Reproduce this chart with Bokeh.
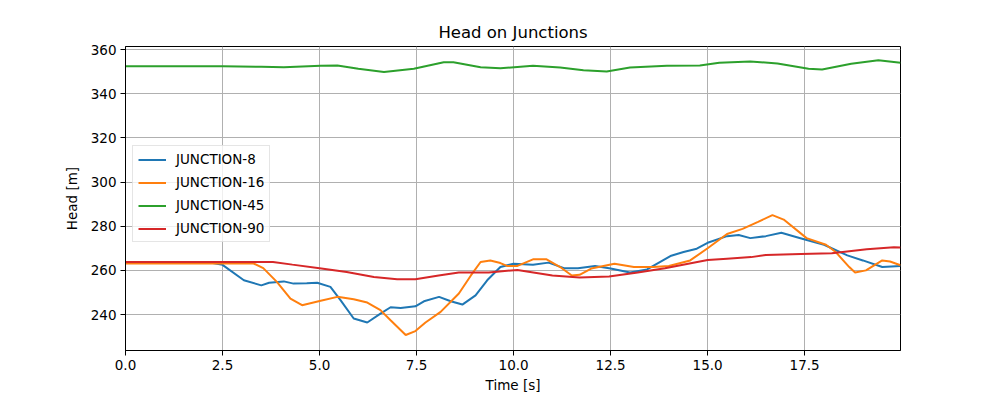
from bokeh.plotting import figure
from bokeh.models import FixedTicker, PrintfTickFormatter, Legend, LegendItem, Range1d
from bokeh.embed import file_html
from bokeh.resources import INLINE

# ---- data ----
t_j8 = [0, 2.25, 2.5, 3.05, 3.5, 3.7, 4.08, 4.33, 4.67, 4.94, 5.28, 5.54, 5.88, 6.23, 6.57, 6.83,
        7.09, 7.47, 7.69, 8.08, 8.38, 8.68, 9.02, 9.32, 9.66, 10.0, 10.5, 10.9, 11.3, 11.66, 12.1,
        12.5, 13.0, 13.44, 14.04, 14.38, 14.72, 15.0, 15.5, 15.8, 16.1, 16.5, 16.9, 17.3, 17.6,
        18.0, 18.6, 19.0, 19.5, 19.97]
h_j8 = [263.3, 263.3, 262.5, 255.5, 253.2, 254.4, 255.0, 254.0, 254.2, 254.4, 252.5, 246.5, 238.2,
        236.4, 240.4, 243.3, 242.9, 243.7, 246.0, 248.0, 246.0, 244.5, 248.7, 255.5, 261.5, 263.0,
        262.5, 263.5, 261.0, 261.0, 262.0, 260.8, 259.0, 260.4, 266.5, 268.3, 269.8, 272.5, 275.5,
        276.0, 274.6, 275.5, 277.0, 275.0, 273.5, 271.6, 266.8, 264.5, 261.5, 262.0]

t_j16 = [0, 3.3, 3.55, 3.9, 4.25, 4.55, 5.03, 5.46, 5.88, 6.23, 6.57, 6.83, 7.22, 7.47, 7.73, 8.12,
         8.59, 8.9, 9.15, 9.4, 9.66, 9.83, 10.1, 10.5, 10.85, 11.2, 11.5, 11.7, 12.0, 12.6, 13.1,
         13.6, 14.0, 14.55, 15.0, 15.5, 15.9, 16.3, 16.67, 16.96, 17.55, 18.05, 18.3, 18.65, 18.8,
         19.08, 19.5, 19.7, 19.97]
h_j16 = [263.1, 263.1, 261.0, 254.8, 247.2, 244.2, 246.2, 248.0, 246.9, 245.4, 242.0, 237.4, 230.7,
         232.5, 236.4, 241.2, 249.5, 257.7, 263.8, 264.5, 263.3, 262.0, 262.0, 265.0, 265.0, 261.5,
         257.7, 258.0, 260.8, 263.0, 261.5, 261.5, 262.0, 264.5, 270.0, 276.5, 278.8, 282.0, 285.0,
         283.0, 274.6, 271.6, 268.3, 261.5, 259.0, 260.0, 264.5, 264.0, 262.3]

t_j45 = [0, 2.5, 3.5, 4.08, 5.03, 5.46, 6.0, 6.66, 7.43, 8.2, 8.45, 9.15, 9.66, 10.5, 11.2, 11.8,
         12.4, 13.0, 13.95, 14.8, 15.3, 16.1, 16.8, 17.6, 17.95, 18.7, 19.4, 19.97]
h_j45 = [352.5, 352.5, 352.2, 352.0, 352.7, 352.8, 351.3, 349.8, 351.3, 354.3, 354.3, 352.0, 351.5,
         352.7, 351.9, 350.6, 350.1, 351.9, 352.7, 352.8, 354.0, 354.6, 353.7, 351.3, 351.0, 353.6,
         355.2, 354.0]

t_j90 = [0, 3.8, 4.3, 5.0, 5.7, 6.4, 7.0, 7.47, 8.07, 8.59, 9.36, 10.1, 11.0, 11.7, 12.46, 13.2,
         13.9, 15.0, 15.5, 16.12, 16.5, 17.4, 18.2, 19.1, 19.8, 19.97]
h_j90 = [263.8, 263.8, 262.6, 261.0, 259.3, 257.0, 256.0, 256.0, 257.7, 259.0, 259.0, 260.2, 257.7,
         256.8, 257.2, 259.0, 261.0, 264.7, 265.3, 266.0, 267.0, 267.4, 267.7, 269.6, 270.5, 270.4]

series_names = ["JUNCTION-8", "JUNCTION-16", "JUNCTION-45", "JUNCTION-90"]
x_ticks = [0, 2.5, 5.0, 7.5, 10.0, 12.5, 15.0, 17.5]
y_ticks = [240, 260, 280, 300, 320, 340, 360]

colors = ["#1f77b4", "#ff7f0e", "#2ca02c", "#d62728"]
FONT = "DejaVu Sans"

p = figure(width=1000, height=395, output_backend="svg", toolbar_location=None,
           x_range=Range1d(0, 19.97), y_range=Range1d(223.7, 361.4),
           min_border_left=125, min_border_right=100, min_border_top=46, min_border_bottom=43,
           title="Head on Junctions")

p.title.text_font = FONT
p.title.text_font_size = "16.5px"
p.title.text_font_style = "normal"
p.title.align = "center"
p.title.text_color = "#000000"

p.outline_line_color = "black"
p.outline_line_width = 1
p.outline_line_alpha = 1

for ax in (p.xaxis[0], p.yaxis[0]):
    ax.axis_line_color = "black"
    ax.major_tick_line_color = "black"
    ax.major_tick_out = 5
    ax.major_tick_in = 0
    ax.minor_tick_line_color = None
    ax.major_label_text_font = FONT
    ax.major_label_text_font_size = "13.5px"
    ax.major_label_text_color = "black"
    ax.axis_label_text_font = FONT
    ax.axis_label_text_font_size = "13.5px"
    ax.axis_label_text_font_style = "normal"
    ax.axis_label_text_color = "black"

p.xaxis.ticker = FixedTicker(ticks=x_ticks)
p.xaxis.formatter = PrintfTickFormatter(format="%.1f")
p.yaxis.ticker = FixedTicker(ticks=y_ticks)
p.xaxis.axis_label = "Time [s]"
p.yaxis.axis_label = "Head [m]"
p.xaxis.major_label_standoff = 4
p.xaxis.axis_label_standoff = 4
p.yaxis.major_label_standoff = 4
p.yaxis.axis_label_standoff = 8

p.xgrid.grid_line_color = "#b0b0b0"
p.ygrid.grid_line_color = "#b0b0b0"
p.xgrid.grid_line_width = 1
p.ygrid.grid_line_width = 1

items = []
for name, ts, hs, c in zip(series_names, [t_j8, t_j16, t_j45, t_j90],
                           [h_j8, h_j16, h_j45, h_j90], colors):
    r = p.line(ts, hs, line_color=c, line_width=2)
    items.append(LegendItem(label=name, renderers=[r]))

legend = Legend(items=items, location=(7, 108))
legend.label_text_font = FONT
legend.label_text_font_size = "13.5px"
legend.label_text_color = "black"
legend.glyph_width = 28
legend.glyph_height = 15
legend.label_height = 15
legend.spacing = 7
legend.padding = 5
legend.label_standoff = 10
legend.margin = 0
legend.border_line_color = "#cccccc"
legend.border_line_width = 1
legend.background_fill_alpha = 0.8
p.add_layout(legend, "center")

open("out.html", "w").write(file_html(p, INLINE))
